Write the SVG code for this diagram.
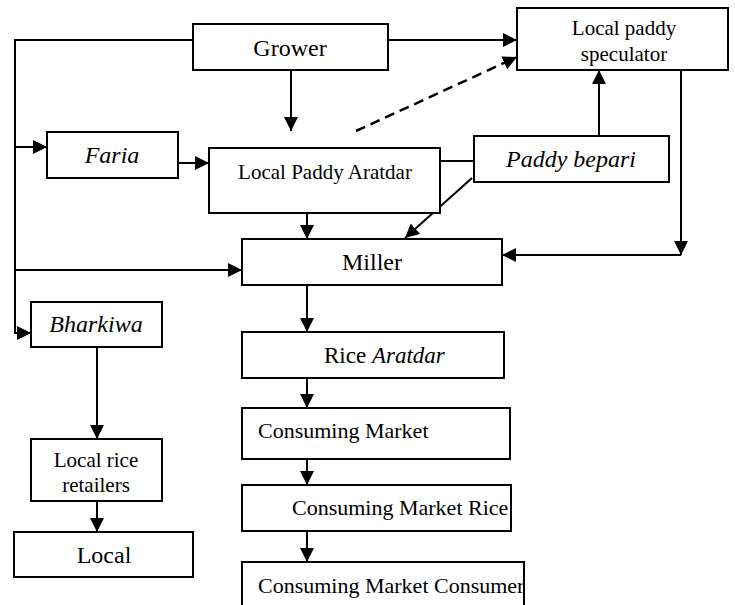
<svg xmlns="http://www.w3.org/2000/svg" width="735" height="605" viewBox="0 0 735 605">
<defs>
<marker id="ah" markerUnits="userSpaceOnUse" markerWidth="15" markerHeight="15" refX="14" refY="7" orient="auto">
<path d="M0,0 L14,7 L0,14 z" fill="#000"/>
</marker>
<style>
.box{fill:#fff;stroke:#000;stroke-width:2}
.c{fill:none;stroke:#000;stroke-width:2}
.a{marker-end:url(#ah)}
.d{stroke-dasharray:10 6;stroke-width:2.5}
text{font-family:"Liberation Serif","Times New Roman",serif;fill:#000;font-size:24px}
.m{text-anchor:middle}
.i{font-style:italic}
.s{font-size:21px}
.l{font-size:22px}
</style>
</defs>
<rect width="735" height="605" fill="#fff"/>
<g id="connectors">
<polyline class="c a" points="193,40 15,40 15,333 31,333"/>
<line class="c a" x1="15" y1="147" x2="47" y2="147"/>
<line class="c a" x1="15" y1="270" x2="242" y2="270"/>
<line class="c a" x1="388" y1="40" x2="517" y2="40"/>
<line class="c a" x1="291" y1="70" x2="291" y2="131"/>
<line class="c a" x1="178" y1="163" x2="209" y2="163"/>
<line class="c a d" x1="356" y1="131" x2="517" y2="57"/>
<line class="c" x1="440" y1="161" x2="474" y2="161"/>
<line class="c a" x1="599" y1="136" x2="599" y2="70"/>
<line class="c a" x1="472" y1="178" x2="405" y2="238"/>
<line class="c a" x1="681" y1="70" x2="681" y2="255"/>
<line class="c a" x1="681" y1="255" x2="502" y2="255"/>
<line class="c a" x1="307" y1="213" x2="307" y2="239"/>
<line class="c a" x1="307" y1="285" x2="307" y2="332"/>
<line class="c a" x1="307" y1="378" x2="307" y2="408"/>
<line class="c a" x1="307" y1="459" x2="307" y2="485"/>
<line class="c a" x1="307" y1="531" x2="307" y2="562"/>
<line class="c a" x1="97" y1="347" x2="97" y2="439"/>
<line class="c a" x1="97" y1="501" x2="97" y2="532"/>
</g>
<g id="grower"><rect class="box" x="193" y="24" width="195" height="46"/><text class="m" x="290" y="56">Grower</text></g>
<g id="speculator"><rect class="box" x="517" y="8" width="211" height="62"/><text class="m s" x="624" y="35">Local paddy</text><text class="m s" x="624" y="61">speculator</text></g>
<g id="faria"><rect class="box" x="47" y="132" width="131" height="46"/><text class="m i" x="112" y="163">Faria</text></g>
<g id="local-paddy-aratdar"><rect class="box" x="209" y="148" width="231" height="65"/><text class="m s" x="325" y="179">Local Paddy Aratdar</text></g>
<g id="paddy-bepari"><rect class="box" x="474" y="136" width="195" height="46"/><text class="m i" x="571" y="167">Paddy bepari</text></g>
<g id="miller"><rect class="box" x="242" y="239" width="260" height="46"/><text class="m" x="372" y="270">Miller</text></g>
<g id="bharkiwa"><rect class="box" x="31" y="302" width="131" height="45"/><text class="m i" x="96" y="332">Bharkiwa</text></g>
<g id="rice-aratdar"><rect class="box" x="242" y="332" width="262" height="46"/><text x="324" y="363" style="font-size:23px">Rice <tspan class="i">Aratdar</tspan></text></g>
<g id="consuming-market"><rect class="box" x="242" y="408" width="268" height="51"/><text class="l" x="258" y="438">Consuming Market</text></g>
<g id="consuming-market-rice"><rect class="box" x="242" y="485" width="269" height="46"/><text class="l" x="292" y="515">Consuming Market Rice</text></g>
<g id="consuming-market-consumer"><rect class="box" x="242" y="562" width="282" height="50"/><text class="l" x="258" y="593">Consuming Market Consumer</text></g>
<g id="local-rice-retailers"><rect class="box" x="31" y="439" width="131" height="62"/><text class="m s" x="96" y="467">Local rice</text><text class="m s" x="96" y="492">retailers</text></g>
<g id="local"><rect class="box" x="14" y="532" width="179" height="45"/><text class="m" x="104" y="563">Local</text></g>
</svg>
